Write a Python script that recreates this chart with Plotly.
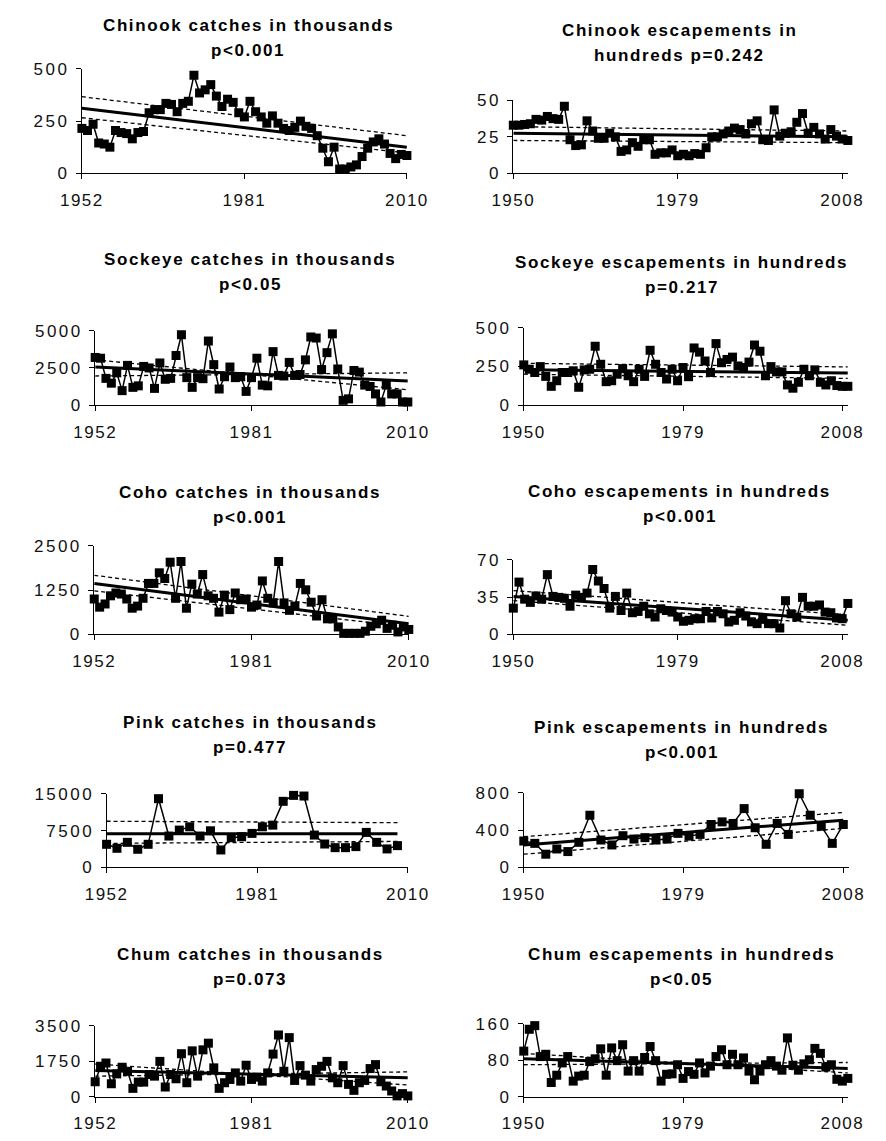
import plotly.graph_objects as go

W, H = 886, 1141

# ---------------- data ----------------
chinook_catch_years = list(range(1952, 2011))
chinook_catch = [215, 205, 235, 145, 140, 125, 205, 195, 190, 165,
                 195, 200, 290, 305, 305, 335, 330, 295, 335, 345,
                 470, 385, 400, 425, 370, 320, 355, 340, 290, 270,
                 345, 295, 270, 240, 275, 240, 215, 205, 220, 250,
                 225, 215, 180, 120, 55, 125, 20, 20, 30, 40,
                 80, 120, 150, 165, 140, 95, 70, 90, 85]

chinook_esc_years = list(range(1950, 2010))
chinook_esc = [33, 33, 33.5, 34, 37, 36.5, 39, 37.5, 37, 46,
               23, 19, 19.5, 36, 29, 24, 24, 27.5, 25, 15,
               16, 21, 18.5, 23, 23, 13, 14, 14, 16, 12,
               13, 12, 13.5, 13, 17.5, 25, 25, 27, 29, 31,
               30, 27, 34, 36, 23, 22.5, 43.5, 25.5, 27.5, 28.5,
               35, 41, 27.5, 31.5, 27, 23.5, 30, 25.5, 23.5, 22.5]

sockeye_catch_years = list(range(1952, 2011))
sockeye_catch = [3200, 3150, 1800, 1480, 2170, 980, 2670, 1200, 1300, 2600,
                 2500, 1130, 2830, 1740, 1800, 3330, 4720, 1850, 1200, 1850,
                 1780, 4300, 2720, 1090, 1910, 2560, 1850, 1910, 930, 1850,
                 3150, 1350, 1300, 3590, 2000, 1960, 2870, 2000, 2060, 3040,
                 4570, 4500, 2390, 3520, 4780, 2430, 330, 430, 2330, 2220,
                 1350, 1260, 760, 220, 1350, 760, 760, 220, 220]

sockeye_esc_years = list(range(1950, 2010))
sockeye_esc = [260, 232, 211, 249, 186, 122, 158, 211, 211, 222,
               116, 228, 232, 380, 264, 152, 158, 200, 236, 190,
               152, 232, 186, 354, 264, 211, 169, 232, 158, 243,
               184, 369, 342, 285, 211, 397, 274, 295, 310, 253,
               243, 278, 388, 348, 190, 249, 215, 215, 131, 110,
               148, 232, 190, 228, 148, 131, 158, 127, 122, 122]

coho_catch_years = list(range(1952, 2011))
coho_catch = [1000, 770, 860, 1090, 1170, 1140, 1000, 740, 800, 1020,
              1440, 1440, 1740, 1580, 2040, 1020, 2060, 740, 1420, 1140,
              1690, 1090, 1020, 630, 1110, 700, 1170, 980, 1000, 770,
              830, 1510, 1020, 890, 2060, 890, 680, 800, 1440, 1260,
              910, 520, 980, 440, 440, 210, 30, 30, 30, 30,
              90, 230, 300, 400, 170, 260, 70, 210, 140]

coho_esc_years = list(range(1950, 2010))
coho_esc = [24.6, 49, 33, 30, 36, 33, 56, 35.6, 34.7, 33.8,
            26.4, 36.8, 34.7, 38.7, 60.8, 50, 43, 24.6, 35.6, 22.4,
            38.7, 20.3, 21.5, 26.4, 19.3, 16.3, 24, 22.4, 20.9, 16.3,
            12.3, 13.2, 14.7, 14.7, 21.5, 15.4, 21.5, 19.3, 11.7, 13.2,
            20.3, 17.2, 11.7, 10.1, 14.1, 10.1, 10, 6, 31.6, 19.3,
            16.3, 34.7, 26.4, 26.4, 27.6, 20.9, 20.3, 15.4, 14.7, 29]

pink_catch_years = list(range(1952, 2009, 2))
pink_catch = [4710, 3900, 5110, 3700, 4710, 13990, 6390, 7600, 8270, 6390,
              7460, 3560, 6050, 6250, 6930, 8270, 8610, 13450, 14660, 14530,
              6590, 4770, 4030, 4030, 4240, 7130, 5110, 3770, 4440]

pink_esc_years = list(range(1950, 2009, 2))
pink_esc = [283, 258, 142, 198, 170, 269, 559, 294, 241, 340,
            304, 319, 294, 304, 365, 336, 354, 460, 488, 471,
            630, 425, 248, 471, 354, 789, 559, 442, 258, 460]

chum_catch_years = list(range(1952, 2011))
chum_catch = [733, 1500, 1660, 635, 1120, 1450, 1250, 407, 716, 716,
              1090, 1010, 1740, 472, 1090, 880, 2120, 684, 2260, 1010,
              2310, 2640, 1420, 407, 684, 847, 1170, 765, 1550, 847,
              960, 765, 1170, 2100, 3045, 1250, 2915, 798, 1530, 1060,
              765, 1335, 1500, 1740, 928, 684, 1530, 603, 309, 684,
              798, 1385, 1580, 733, 521, 277, 33, 147, 33]

chum_esc_years = list(range(1950, 2010))
chum_esc = [100, 148, 156, 88, 93, 31, 47, 74, 88, 34,
            45, 47, 77, 83, 105, 47, 107, 79, 114, 56,
            79, 56, 86, 110, 79, 34, 49, 50, 70, 40,
            55, 49, 74, 52, 67, 88, 103, 70, 93, 70,
            85, 56, 37, 56, 70, 79, 67, 58, 129, 69,
            58, 72, 81, 106, 95, 65, 70, 38, 34, 40]

# trend lines (start value, end value): fitted, upper and lower bounds
trend_mid = {
    "chinook_catch": [312, 125], "chinook_esc": [27.5, 25],
    "sockeye_catch": [2560, 1630], "sockeye_esc": [228, 207],
    "coho_catch": [1440, 300], "coho_esc": [35.6, 13.2],
    "pink_catch": [6860, 6860], "pink_esc": [241, 506],
    "chum_catch": [1290, 930], "chum_esc": [83, 62],
}
trend_hi = {
    "chinook_catch": [367, 180], "chinook_esc": [32, 29],
    "sockeye_catch": [3040, 1040], "sockeye_esc": [270, 247],
    "coho_catch": [1670, 510], "coho_esc": [41, 18.4],
    "pink_catch": [9400, 9100], "pink_esc": [329, 588],
    "chum_catch": [1610, 570], "chum_esc": [95, 52],
}
trend_lo = {
    "chinook_catch": [266, 97], "chinook_esc": [22.5, 21],
    "sockeye_catch": [1960, 2170], "sockeye_esc": [200, 173],
    "coho_catch": [1230, 210], "coho_esc": [31.6, 8.6],
    "pink_catch": [4900, 5300], "pink_esc": [142, 418],
    "chum_catch": [1010, 1220], "chum_esc": [70, 75],
}

titles = {
    "chinook_catch": ["Chinook catches in thousands", "p<0.001"],
    "chinook_esc": ["Chinook escapements in", "hundreds p=0.242"],
    "sockeye_catch": ["Sockeye catches in thousands", "p<0.05"],
    "sockeye_esc": ["Sockeye escapements in hundreds", "p=0.217"],
    "coho_catch": ["Coho catches in thousands", "p<0.001"],
    "coho_esc": ["Coho escapements in hundreds", "p<0.001"],
    "pink_catch": ["Pink catches in thousands", "p=0.477"],
    "pink_esc": ["Pink escapements in hundreds", "p<0.001"],
    "chum_catch": ["Chum catches in thousands", "p=0.073"],
    "chum_esc": ["Chum escapements in hundreds", "p<0.05"],
}

y_ticks = {
    "chinook_catch": [0, 250, 500], "chinook_esc": [0, 25, 50],
    "sockeye_catch": [0, 2500, 5000], "sockeye_esc": [0, 250, 500],
    "coho_catch": [0, 1250, 2500], "coho_esc": [0, 35, 70],
    "pink_catch": [0, 7500, 15000], "pink_esc": [0, 400, 800],
    "chum_catch": [0, 1750, 3500], "chum_esc": [0, 80, 160],
}
catch_x_ticks = [1952, 1981, 2010]
esc_x_ticks = [1950, 1979, 2008]

series = {
    "chinook_catch": (chinook_catch_years, chinook_catch),
    "chinook_esc": (chinook_esc_years, chinook_esc),
    "sockeye_catch": (sockeye_catch_years, sockeye_catch),
    "sockeye_esc": (sockeye_esc_years, sockeye_esc),
    "coho_catch": (coho_catch_years, coho_catch),
    "coho_esc": (coho_esc_years, coho_esc),
    "pink_catch": (pink_catch_years, pink_catch),
    "pink_esc": (pink_esc_years, pink_esc),
    "chum_catch": (chum_catch_years, chum_catch),
    "chum_esc": (chum_esc_years, chum_esc),
}

# ---------------- layout (pixel geometry) ----------------
# key: (x_left_px, x_right_px, x_range, y_top_px, y_bottom_px, title_center_px, title_line1_y, title_line2_y)
geom = {
    "chinook_catch": (63, 405, [1952, 2010], 61, 167, 238, 17, 42),
    "chinook_esc": (517, 869, [1950, 2009], 93, 167, 692, 22, 47),
    "sockeye_catch": (77, 406, [1952, 2010], 327, 403, 240, 255, 280),
    "sockeye_esc": (528, 869, [1950, 2009], 324, 403, 694, 258, 283),
    "coho_catch": (76, 407, [1952, 2010], 546, 636, 240, 492, 517),
    "coho_esc": (517, 869, [1950, 2009], 560, 636, 692, 491, 516),
    "pink_catch": (89, 406, [1952, 2010], 798, 873, 240, 726, 751),
    "pink_esc": (528, 870, [1950, 2009], 797, 873, 694, 731, 756),
    "chum_catch": (77, 406, [1952, 2010], 1034, 1106, 240, 962, 987),
    "chum_esc": (528, 869, [1950, 2009], 1032, 1106, 694, 962, 987),
}

FONT = "Liberation Sans, Arial, sans-serif"


def spaced(txt, px):
    return "<span style='letter-spacing:%spx'>%s</span>" % (px, txt)


fig = go.Figure()
annotations = []
layout_axes = {}

for i, key in enumerate(series.keys(), start=1):
    xs, ys = series[key]
    xl, xr, xrange, yt, yb, tcx, t1, t2 = geom[key]
    ax = "" if i == 1 else str(i)
    xref, yref = "x" + ax, "y" + ax
    x_end = xs[-1]

    fig.add_trace(go.Scatter(
        x=xs, y=ys, mode="lines+markers", xaxis=xref, yaxis=yref,
        line=dict(color="black", width=1.5),
        marker=dict(symbol="square", size=9, color="black"),
        cliponaxis=False, showlegend=False))
    for tr, w, dash in ((trend_hi, 1.3, "4px,3px"), (trend_lo, 1.3, "4px,3px"),
                        (trend_mid, 3, "solid")):
        fig.add_trace(go.Scatter(
            x=[xs[0], x_end], y=tr[key], mode="lines", xaxis=xref, yaxis=yref,
            line=dict(color="black", width=w, dash=dash),
            cliponaxis=False, showlegend=False))

    ymax = y_ticks[key][-1]
    xticks = catch_x_ticks if "catch" in key else esc_x_ticks
    layout_axes["xaxis" + ax] = dict(
        domain=[xl / W, xr / W], range=xrange, anchor=yref,
        tickvals=xticks, ticktext=[spaced(str(t), 1.5) for t in xticks],
        showline=True, linecolor="black", linewidth=1,
        ticks="outside", ticklen=5, tickcolor="black",
        showgrid=False, zeroline=False, fixedrange=True,
        ticklabelstandoff=6,
        tickfont=dict(family=FONT, size=17, color="#111"))
    layout_axes["yaxis" + ax] = dict(
        domain=[1 - yb / H, 1 - yt / H], range=[0, ymax], anchor=xref,
        tickvals=y_ticks[key], ticktext=[spaced(str(t), 2.5) for t in y_ticks[key]],
        showline=True, linecolor="black", linewidth=1,
        ticks="outside", ticklen=5, tickcolor="black",
        showgrid=False, zeroline=False, fixedrange=True,
        ticklabelstandoff=3,
        tickfont=dict(family=FONT, size=17, color="#111"))

    for txt, ty in ((titles[key][0], t1), (titles[key][1], t2)):
        annotations.append(dict(
            text="<b>" + spaced(txt, 1.6) + "</b>", x=tcx / W, y=1 - ty / H,
            xref="paper", yref="paper", xanchor="center", yanchor="middle",
            showarrow=False, font=dict(family=FONT, size=17, color="black")))

fig.update_layout(
    width=W, height=H, margin=dict(l=0, r=0, t=0, b=0),
    paper_bgcolor="white", plot_bgcolor="white",
    annotations=annotations, showlegend=False, **layout_axes)

fig.write_html("out.html")
